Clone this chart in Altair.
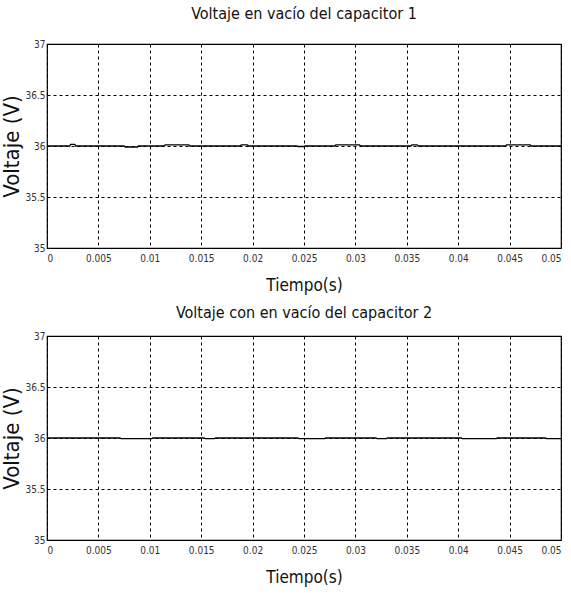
import altair as alt
import pandas as pd

# ---- data ----
t1 = [0, 0.0022, 0.0023, 0.0027, 0.0028, 0.0075, 0.0076, 0.0088, 0.0089,
      0.0114, 0.0115, 0.0138, 0.0139, 0.0188, 0.0189, 0.0195, 0.0196,
      0.0243, 0.0244, 0.0250, 0.0251, 0.0280, 0.0281, 0.0304, 0.0305,
      0.0354, 0.0355, 0.0360, 0.0361, 0.0446, 0.0447, 0.0470, 0.0471, 0.05]
v1 = [36.0, 36.0, 36.015, 36.015, 36.0, 36.0, 35.99, 35.99, 36.0,
      36.0, 36.012, 36.012, 36.0, 36.0, 36.012, 36.012, 36.0,
      36.0, 35.995, 35.995, 36.0, 36.0, 36.012, 36.012, 36.0,
      36.0, 36.012, 36.012, 36.0, 36.0, 36.012, 36.012, 36.0, 36.0]

t2 = [0, 0.0071, 0.0072, 0.0102, 0.0103, 0.0153, 0.0154, 0.0163, 0.0164,
      0.0244, 0.0245, 0.0270, 0.0271, 0.0320, 0.0321, 0.0330, 0.0331,
      0.0403, 0.0404, 0.0437, 0.0438, 0.0485, 0.0486, 0.05]
v2 = [36.0, 36.0, 35.993, 35.993, 36.0, 36.0, 35.993, 35.993, 36.0,
      36.0, 35.993, 35.993, 36.0, 36.0, 35.993, 35.993, 36.0,
      36.0, 35.993, 35.993, 36.0, 36.0, 35.993, 35.993]

x_ticks = [0, 0.005, 0.01, 0.015, 0.02, 0.025, 0.03, 0.035, 0.04, 0.045, 0.05]
y_ticks = [35, 35.5, 36, 36.5, 37]

titles = ["Voltaje en vacío del capacitor 1", "Voltaje con en vacío del capacitor 2"]
x_title = "Tiempo(s)"
y_title = "Voltaje  (V)"

FONT = "DejaVu Sans Condensed, sans-serif"


def panel(t, v, title, offset):
    df = pd.DataFrame({"t": t, "v": v})
    return (
        alt.Chart(
            df,
            title=alt.TitleParams(title, fontSize=16, font=FONT, fontWeight="normal",
                                  color="#111111", offset=offset),
        )
        .mark_line(color="black", strokeWidth=1.3)
        .encode(
            x=alt.X("t:Q", scale=alt.Scale(domain=[0, 0.05], nice=False, zero=False),
                    axis=alt.Axis(values=x_ticks, format=".3~f", title=x_title,
                                  titleFontSize=17, titlePadding=14, labelPadding=5)),
            y=alt.Y("v:Q", scale=alt.Scale(domain=[35, 37], nice=False, zero=False),
                    axis=alt.Axis(values=y_ticks, format=".1~f", title=y_title,
                                  titleFontSize=22, titlePadding=1, labelPadding=2)),
        )
        .properties(width=514, height=204)
    )


chart = (
    alt.vconcat(panel(t1, v1, titles[0], 17), panel(t2, v2, titles[1], 10), spacing=10)
    .configure_view(stroke="black", strokeWidth=1.2)
    .configure_axis(
        grid=True, gridColor="black", gridDash=[3, 3], gridOpacity=1, gridWidth=1,
        domain=False, ticks=False, labelFont=FONT, labelFontSize=10,
        labelColor="#333333", titleFont=FONT,
        titleFontWeight="normal", titleColor="#111111",
    )
    .configure_title(anchor="middle")
    .properties(padding={"left": 0, "right": 0, "top": 5, "bottom": 2}, background="white")
)

chart.save("out.html", embed_options={"renderer": "svg", "actions": False})
